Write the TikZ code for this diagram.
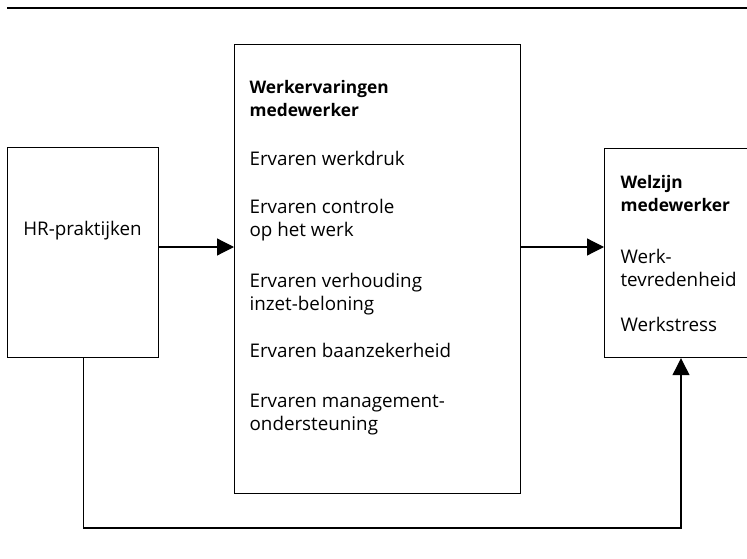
\documentclass[tikz,border=0pt]{standalone}
\usepackage{fontspec}
\setmainfont{Open Sans}
\usetikzlibrary{arrows.meta}

\newcommand{\kop}[1]{{\fontsize{17.3pt}{23pt}\selectfont\bfseries #1}}

\tikzset{
  kader/.style={draw,inner sep=0pt,anchor=north west},
  tekst/.style={inner sep=0pt,anchor=base west,align=left,
    font=\fontsize{18.8pt}{23pt}\selectfont},
  pijl/.style={-{Triangle[length=17pt,width=17pt]}}
}

\begin{document}
\begin{tikzpicture}[x=1pt,y=-1pt,line width=1.2pt]
\useasboundingbox (0,0) rectangle (747,559);
\draw[line width=1.6pt] (7,8) -- (747,8);

\node[kader,minimum width=151pt,minimum height=210pt] (hr) at (7,147) {};
\node[kader,minimum width=286pt,minimum height=449pt] (ervaring) at (234,44) {};
\node[kader,minimum width=200pt,minimum height=209pt] (welzijn) at (604,148) {};

\node[tekst,anchor=base] (hrtekst) at (82.5,235) {HR-praktijken};

% base of a multi-line node = baseline of its last line
\node[tekst] (e0) at (249,117) {\kop{Werkervaringen}\\\kop{medewerker}};
\node[tekst] (e1) at (249,166) {Ervaren werkdruk};
\node[tekst] (e2) at (249,236) {Ervaren controle\\op het werk};
\node[tekst] (e3) at (249,310) {Ervaren verhouding\\inzet-beloning};
\node[tekst] (e4) at (249,357) {Ervaren baanzekerheid};
\node[tekst] (e5) at (249,430) {Ervaren management-\\ondersteuning};

\node[tekst] (w0) at (620,211) {\kop{Welzijn}\\\kop{medewerker}};
\node[tekst] (w1) at (620,286) {Werk-\\tevredenheid};
\node[tekst] (w2) at (620,331) {Werkstress};

\coordinate (hoogte) at (0,247);
\coordinate (onder) at (681,528);
\draw[pijl] (hr.east |- hoogte) -- (ervaring.west |- hoogte);
\draw[pijl] (ervaring.east |- hoogte) -- (welzijn.west |- hoogte);
\draw[pijl] (hr.south) |- (onder) -- (onder |- welzijn.south);
\end{tikzpicture}
\end{document}
